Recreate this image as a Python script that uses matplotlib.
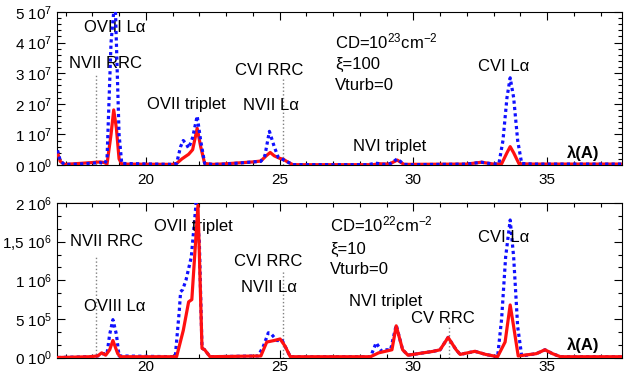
import numpy as np
import matplotlib
matplotlib.use('Agg')
import matplotlib.pyplot as plt
from matplotlib.ticker import MultipleLocator, AutoMinorLocator

plt.rcParams['font.family'] = ['Liberation Sans', 'DejaVu Sans']
plt.rcParams['mathtext.fontset'] = 'custom'
plt.rcParams['mathtext.rm'] = 'Liberation Sans'
plt.rcParams['mathtext.it'] = 'Liberation Sans:italic'
plt.rcParams['mathtext.bf'] = 'Liberation Sans:bold'

# upper panel (CD=1e23, xi=100), values in units of 1e6
top_wave_blue = [16.7, 16.8, 16.95, 17.5, 18.0, 18.3, 18.45, 18.55, 18.7, 18.85, 19.0, 19.1,
                 21.0, 21.15, 21.3, 21.4, 21.5, 21.6, 21.75, 21.92, 22.05, 22.2, 22.5, 23.0,
                 24.0, 24.3, 24.45, 24.62, 24.8, 24.95, 25.1, 25.3, 25.5, 26.0, 28.3, 28.6,
                 28.9, 29.15, 29.4, 29.65, 30.0, 32.0, 32.55, 33.0, 33.2, 33.35, 33.5, 33.62,
                 33.75, 33.9, 34.05, 34.5, 37.8]
top_flux_blue = [4.8, 1.5, 0.2, 0.3, 0.6, 0.8, 0.3, 2.0, 40.0, 55.0, 10.0, 0.5,
                 0.2, 0.5, 6.0, 8.0, 7.0, 5.5, 9.0, 16.0, 8.0, 0.5, 0.2, 0.3,
                 1.0, 1.2, 3.0, 11.0, 6.0, 2.5, 1.9, 1.0, 0.1, 0.1, 0.1, 0.6,
                 0.2, 0.5, 2.0, 0.2, 0.1, 0.3, 0.9, 0.3, 0.5, 8.0, 22.0, 28.5,
                 22.0, 8.0, 0.5, 0.3, 0.3]

top_wave_red = [16.7, 16.8, 16.95, 17.5, 18.0, 18.3, 18.45, 18.55, 18.7, 18.8, 18.9, 19.0,
                19.1, 21.0, 21.15, 21.35, 21.6, 21.75, 21.92, 22.05, 22.2, 22.5, 23.0, 24.0,
                24.3, 24.5, 24.65, 24.8, 25.0, 25.15, 25.3, 25.5, 28.5, 28.7, 29.1, 29.4,
                29.65, 32.0, 32.55, 33.0, 33.3, 33.5, 33.62, 33.75, 33.95, 34.5, 37.8]
top_flux_red = [4.0, 1.2, 0.2, 0.5, 0.8, 1.0, 0.8, 0.3, 10.0, 18.0, 12.0, 2.0,
                0.3, 0.2, 0.5, 2.0, 3.5, 5.0, 12.0, 6.0, 0.5, 0.2, 0.4, 1.0,
                1.3, 3.0, 4.1, 3.0, 2.2, 1.8, 1.0, 0.1, 0.1, 0.4, 0.3, 1.6,
                0.2, 0.3, 0.9, 0.3, 0.4, 4.0, 6.0, 4.0, 0.4, 0.3, 0.3]

# lower panel (CD=1e22, xi=10), values in units of 1e6
bot_wave_blue = [16.7, 17.9, 18.2, 18.4, 18.55, 18.65, 18.77, 18.9, 19.0, 21.1, 21.25, 21.3,
                 21.38, 21.5, 21.7, 21.88, 22.0, 22.1, 22.2, 22.4, 24.2, 24.4, 24.58, 24.7,
                 24.9, 25.1, 25.4, 28.4, 28.61, 28.82, 28.95, 29.15, 29.36, 29.6, 29.8, 30.75,
                 31.0, 31.3, 31.6, 31.75, 32.3, 32.7, 33.15, 33.3, 33.45, 33.62, 33.75, 33.9,
                 34.05, 34.6, 34.92, 35.2, 35.5, 37.8]
bot_flux_blue = [0.0, 0.01, 0.02, 0.05, 0.05, 0.3, 0.49, 0.3, 0.02, 0.01, 0.6, 0.85,
                 0.88, 1.0, 1.3, 2.0, 1.5, 0.12, 0.1, 0.01, 0.02, 0.15, 0.32, 0.3,
                 0.22, 0.22, 0.01, 0.01, 0.19, 0.08, 0.1, 0.1, 0.42, 0.1, 0.03, 0.08,
                 0.1, 0.26, 0.1, 0.04, 0.08, 0.04, 0.01, 0.5, 1.3, 1.78, 1.3, 0.4,
                 0.02, 0.05, 0.1, 0.05, 0.01, 0.01]

bot_wave_red = [16.7, 17.9, 18.2, 18.35, 18.5, 18.65, 18.77, 18.95, 19.05, 21.15, 21.4, 21.6,
                21.72, 21.95, 22.1, 22.2, 22.4, 24.3, 24.52, 24.8, 25.02, 25.2, 25.4, 28.4,
                28.7, 28.95, 29.2, 29.36, 29.6, 29.8, 30.75, 31.0, 31.3, 31.6, 31.75, 32.3,
                32.7, 33.15, 33.43, 33.62, 33.75, 33.92, 34.6, 34.92, 35.2, 35.5, 37.8]
bot_flux_red = [0.0, 0.01, 0.02, 0.06, 0.03, 0.1, 0.22, 0.05, 0.01, 0.01, 0.35, 0.72,
                0.75, 1.97, 0.12, 0.1, 0.01, 0.02, 0.2, 0.22, 0.24, 0.15, 0.01, 0.01,
                0.06, 0.08, 0.1, 0.41, 0.1, 0.03, 0.08, 0.1, 0.26, 0.1, 0.04, 0.08,
                0.04, 0.01, 0.2, 0.68, 0.4, 0.02, 0.05, 0.1, 0.05, 0.01, 0.01]

top_yticks = [0, 1e7, 2e7, 3e7, 4e7, 5e7]
top_ylabels = ['0 10$^0$', '1 10$^7$', '2 10$^7$', '3 10$^7$', '4 10$^7$', '5 10$^7$']
bot_yticks = [0, 5e5, 1e6, 1.5e6, 2e6]
bot_ylabels = ['0 10$^0$', '5 10$^5$', '1 10$^6$', '1,5 10$^6$', '2 10$^6$']

# (text, x, y) in data units
top_labels = [('OVIII Lα', 18.85, 45e6), ('NVII RRC', 18.48, 33.3e6),
              ('OVII triplet', 21.5, 19.9e6), ('CVI RRC', 24.62, 31e6),
              ('NVII Lα', 24.67, 19.6e6), ('CVI Lα', 33.37, 32.1e6),
              ('NVI triplet', 29.1, 6e6)]
bot_labels = [('NVII RRC', 18.54, 1.5e6), ('OVIII Lα', 18.85, 0.66e6),
              ('OVII triplet', 21.78, 1.7e6), ('CVI RRC', 24.58, 1.24e6),
              ('NVII Lα', 24.62, 0.9e6), ('CVI Lα', 33.37, 1.55e6),
              ('NVI triplet', 28.95, 0.73e6), ('CV RRC', 31.1, 0.51e6)]
top_params = ['CD=10$^{23}$cm$^{-2}$', 'ξ=100', 'Vturb=0']
bot_params = ['CD=10$^{22}$cm$^{-2}$', 'ξ=10', 'Vturb=0']

# dotted marker lines: (x, y_top)
top_marks = [(18.13, 30e6), (25.12, 28.5e6)]
bot_marks = [(18.13, 1.33e6), (25.12, 1.13e6), (31.35, 0.4e6)]

xmin, xmax = 16.68, 37.8

fig = plt.figure(figsize=(6.24, 3.74), dpi=100)
ax1 = fig.add_axes([57 / 624, 1 - 165 / 374, 565 / 624, 153 / 374])
ax2 = fig.add_axes([57 / 624, 1 - 357.5 / 374, 565 / 624, 154.5 / 374])


def style_axis(ax, yticks, ylabels, ymax, nminor, xpad):
    ax.set_xlim(xmin, xmax)
    ax.set_ylim(0, ymax)
    ax.xaxis.set_major_locator(MultipleLocator(5))
    ax.xaxis.set_minor_locator(MultipleLocator(1))
    ax.set_yticks(yticks)
    ax.set_yticklabels(ylabels)
    ax.yaxis.set_minor_locator(AutoMinorLocator(nminor))
    ax.tick_params(which='both', direction='in', top=True, right=True, labelsize=11, width=0.8)
    ax.tick_params(which='major', length=6)
    ax.tick_params(which='minor', length=3)
    ax.tick_params(axis='x', which='major', pad=xpad)
    for sp in ax.spines.values():
        sp.set_linewidth(0.8)


# top
style_axis(ax1, top_yticks, top_ylabels, 5e7, 5, 5.5)
for x, yt in top_marks:
    ax1.plot([x, x], [0, yt], color='gray', ls=':', lw=1.0)
ax1.plot(top_wave_red, np.array(top_flux_red) * 1e6, color='#ff1010', lw=2.3, zorder=3)
ax1.plot(top_wave_blue, np.array(top_flux_blue) * 1e6, color='#1010ff', lw=2.3, ls=(0, (1, 1)), zorder=4)
for txt, x, y in top_labels:
    ax1.text(x, y, txt, ha='center', va='center', fontsize=12)
for i, txt in enumerate(top_params):
    ax1.text(27.08, [40.3e6, 32.7e6, 26.1e6][i], txt, ha='left', va='center', fontsize=12)
ax1.text(36.36, 3.8e6, 'λ(A)', ha='center', va='center', fontsize=12, fontweight='bold')

# bottom
style_axis(ax2, bot_yticks, bot_ylabels, 2e6, 3, 1.5)
for x, yt in bot_marks:
    ax2.plot([x, x], [0, yt], color='gray', ls=':', lw=1.0)
ax2.plot(bot_wave_blue, np.array(bot_flux_blue) * 1e6, color='#1010ff', lw=2.3, ls=(0, (1, 1)), zorder=3)
ax2.plot(bot_wave_red, np.array(bot_flux_red) * 1e6, color='#ff1010', lw=2.3, zorder=4)
for txt, x, y in bot_labels:
    ax2.text(x, y, txt, ha='center', va='center', fontsize=12)
for i, txt in enumerate(bot_params):
    ax2.text(26.9, [1.72e6, 1.4e6, 1.14e6][i], txt, ha='left', va='center', fontsize=12)
ax2.text(36.36, 0.16e6, 'λ(A)', ha='center', va='center', fontsize=12, fontweight='bold')

fig.savefig('out.png', dpi=100)
